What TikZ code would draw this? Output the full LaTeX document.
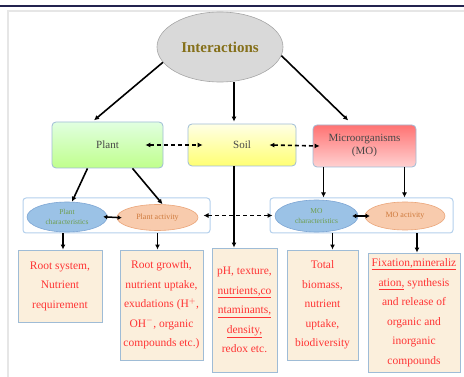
\documentclass[tikz,border=0pt]{standalone}
\usepackage{fontspec}
\setmainfont{Liberation Serif}
\usepackage{tikz}
\usetikzlibrary{shapes.geometric, arrows.meta, positioning}

\definecolor{framenavy}{HTML}{23234F}
\definecolor{framegray}{HTML}{E6E6E6}
\definecolor{titlegold}{HTML}{85701A}
\definecolor{ovalgray}{HTML}{D9D9D9}
\definecolor{ovaledge}{HTML}{A6A6A6}
\definecolor{boxedge}{HTML}{9FBCD6}
\definecolor{boxfill}{HTML}{FBEFDC}
\definecolor{infored}{HTML}{FF3535}
\definecolor{charblue}{HTML}{9BC2E6}
\definecolor{charedge}{HTML}{7EA6D4}
\definecolor{chargreen}{HTML}{6E9E4E}
\definecolor{actorange}{HTML}{F8CBAD}
\definecolor{actedge}{HTML}{EBA67A}
\definecolor{actbrown}{HTML}{CF7A3C}
\definecolor{grpedge}{HTML}{B4D0EC}

\begin{document}
\begin{tikzpicture}[
    x=1pt, y=-1pt,
    mainbox/.style={rectangle, draw=boxedge, rounded corners=4pt, line width=0.8pt, align=center, font=\fontsize{11}{13}\selectfont},
    groupbox/.style={rectangle, draw=grpedge, rounded corners=3pt, line width=1pt, fill=white},
    charoval/.style={ellipse, draw=charedge, fill=charblue, line width=0.6pt, align=center, text=chargreen, font=\fontsize{7.5}{10}\selectfont, inner sep=0pt},
    actoval/.style={ellipse, draw=actedge, fill=actorange, line width=0.6pt, align=center, text=actbrown, font=\fontsize{8}{10}\selectfont, inner sep=0pt},
    infobox/.style={rectangle, draw=boxedge, fill=boxfill, line width=0.9pt, align=center, text=infored, font=\fontsize{11.5}{19.5}\selectfont, inner sep=1pt},
    arrow/.style={-{Latex[length=5pt, width=5pt]}, line width=1.6pt},
    dasharrow/.style={{Latex[length=5pt, width=5pt]}-{Latex[length=5pt, width=5pt]}, line width=1.6pt, dash pattern=on 4pt off 3pt},
    twoarrow/.style={{Latex[length=4pt, width=5pt]}-{Latex[length=4pt, width=5pt]}, line width=1.5pt}
]
\useasboundingbox (0,0) rectangle (464,377);
\draw[framenavy, line width=1.6pt] (0,6) -- (464,6);
\draw[framegray, line width=1.5pt] (8,377) -- (8,11) -- (464,11);

\node[ellipse, draw=ovaledge, fill=ovalgray, line width=0.6pt, minimum width=126, minimum height=70, text=titlegold, font=\fontsize{15}{17}\selectfont\bfseries] (inter) at (220,47) {Interactions};

\node[mainbox, minimum width=111, minimum height=46, top color=green!12, bottom color=green!40!lime!45, text=black!72] (plant) at (107.5,145) {Plant};
\node[mainbox, minimum width=108, minimum height=42, top color=yellow!10, bottom color=yellow!55, text=black!72] (soil) at (242,145) {Soil};
\node[mainbox, minimum width=103, minimum height=42, top color=red!55, bottom color=red!18, text=black!72] (mo) at (364.5,146) {Microorganisms\\(MO)};

\node[groupbox, minimum width=187, minimum height=35] (plantgrp) at (116.5,215.5) {};
\node[groupbox, minimum width=183, minimum height=35] (mogrp) at (361.5,215.5) {};

\node[charoval, minimum width=80, minimum height=30] (pchar) at (67,217) {Plant\\characteristics};
\node[actoval, minimum width=81, minimum height=26] (pact) at (157.5,217.5) {Plant activity};
\node[charoval, minimum width=83, minimum height=32] (mchar) at (316.5,216) {MO\\characteristics};
\node[actoval, minimum width=80, minimum height=28] (mact) at (405,216) {MO activity};

\node[infobox, minimum width=84, minimum height=72] (b1) at (60,286) {Root system,\\Nutrient\\requirement};
\node[infobox, minimum width=83, minimum height=110] (b2) at (161.5,305) {Root growth,\\nutrient uptake,\\exudations (H$^{+}$,\\OH$^{-}$, organic\\compounds etc.)};
\node[infobox, minimum width=65, minimum height=124] (b3) at (244.5,310) {pH, texture,\\\underline{nutrients,co}\\\underline{ntaminants,}\\\underline{density,}\\redox etc.};
\node[infobox, minimum width=71, minimum height=110] (b4) at (322.5,305) {Total\\biomass,\\nutrient\\uptake,\\biodiversity};
\node[infobox, minimum width=92, minimum height=119] (b5) at (414,312.5) {\underline{Fixation,mineraliz}\\\underline{ation,} synthesis\\and release of\\organic and\\inorganic\\compounds};

\draw[arrow, shorten >=2pt] (inter.195) -- ([xshift=-15pt]plant.north);
\draw[arrow, shorten >=2pt] ([xshift=14pt]inter.south) -- ([xshift=-8pt]soil.north);
\draw[arrow, shorten >=6pt] (inter.-8) -- ([xshift=-12pt]mo.north);

\draw[dasharrow] ([xshift=-18pt]plant.east) -- ([xshift=15pt]soil.west);
\draw[dasharrow] ([xshift=-27pt]soil.east) -- ([xshift=7pt]mo.west);

\draw[arrow] ([xshift=-20pt]plant.south) -- ([xshift=5pt]pchar.north);
\draw[arrow] ([xshift=25pt]plant.south) -- ([xshift=5pt]pact.north);
\draw[arrow] ([xshift=-8pt]soil.south) -- ([xshift=-8pt]soil.south |- b3.north);
\draw[arrow] ([xshift=-41pt]mo.south) -- ([xshift=-41pt]mo.south |- mogrp.north);
\draw[arrow] ([xshift=40pt]mo.south) -- ([xshift=40pt]mo.south |- mogrp.north);

\draw[twoarrow, shorten <=-4pt, shorten >=-5pt] (pchar.east) -- (pact.west);
\draw[twoarrow, shorten <=-6pt, shorten >=-5pt] (mchar.east) -- (mact.west);
\draw[dasharrow, shorten <=-7pt, shorten >=-3pt] (plantgrp.east) -- (mogrp.west);

\draw[arrow] ([xshift=-4pt]plantgrp.south -| pchar.south) -- ([xshift=-4pt]pchar.south |- b1.north);
\draw[arrow] (plantgrp.south -| pact.south) -- (pact.south |- b2.north);
\draw[arrow] ([xshift=16pt]mogrp.south -| mchar.south) -- ([xshift=16pt]mchar.south |- b4.north);
\draw[arrow] ([xshift=12pt]mogrp.south -| mact.south) -- ([xshift=12pt]mact.south |- b5.north);
\end{tikzpicture}
\end{document}
